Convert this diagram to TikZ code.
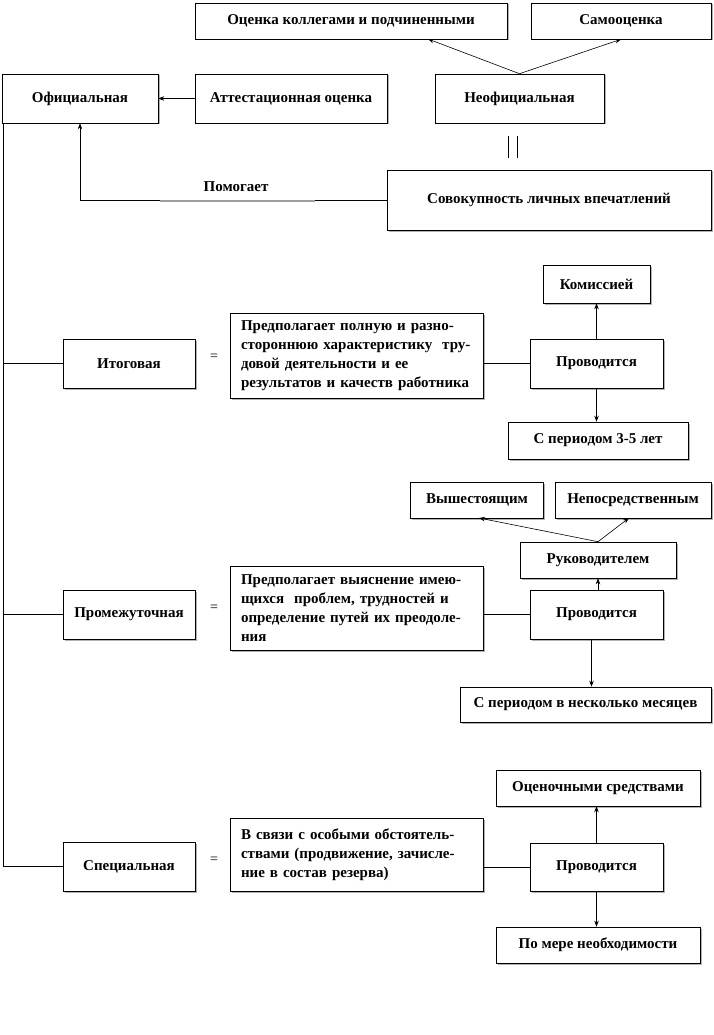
\documentclass[tikz,border=0pt]{standalone}
\usepackage{fontspec}
\setmainfont{Liberation Serif}
\usetikzlibrary{shadows,arrows.meta}
\begin{document}
\begin{tikzpicture}[x=1pt,y=-1pt,
  box/.style={draw=black, line width=0.6pt, fill=white, inner sep=2pt,
    font=\fontsize{15}{19}\selectfont\bfseries,
    drop shadow={shadow xshift=1.5pt, shadow yshift=-1.5pt, fill=gray!60, opacity=1}},
  sz/.style 2 args={minimum width=#1pt, minimum height=#2pt},
  desc/.style={box, align=left, text width=231pt, inner xsep=11pt},
  arr/.style={-{Stealth[length=6pt,width=4.5pt]}, line width=0.6pt},
  ln/.style={line width=0.6pt},
  lbl/.style={font=\fontsize{15}{19}\selectfont\bfseries, inner sep=0pt},
  eqs/.style={font=\fontsize{14}{14}\selectfont, inner sep=0pt}]
\useasboundingbox (0,0) rectangle (714,1035);

% top part
\node[box, sz={312}{36}] (A) at (351,21) {Оценка коллегами и подчиненными};
\node[box, sz={180}{36}] (B) at (621,21) {Самооценка};
\node[box, sz={156}{49}] (C) at (80,98.5) {Официальная};
\node[box, sz={192}{49}] (D) at (291,98.5) {Аттестационная оценка};
\node[box, sz={169}{49}] (E) at (519.5,98.5) {Неофициальная};
\node[box, sz={324}{60}] (F) at (549,200) {Совокупность личных впечатлений};
\node[lbl] (help) at (236,187) {Помогает};
\node[inner sep=0pt] (par) at (513,147) {\rule{0.6pt}{22pt}\hspace{8pt}\rule{0.6pt}{22pt}};

\coordinate (Ain) at (428,39);
\draw[arr] (E.north) -- (Ain);
\draw[arr] (E.north) -- (B.south);
\draw[arr] (D.west) -- (C.east);
\draw[arr] (F.west) -| (C.south);
\draw[gray!75, line width=1.4pt] (160,201) -- (315,201);

% row 1
\node[box, sz={107}{38}] (K) at (596.5,284) {Комиссией};
\node[box, sz={132}{49}] (I1) at (129,363.5) {Итоговая};
\node[eqs] (q1) at (214,357) {=};
\node[desc, minimum height=85pt] (D1) at (356.5,355.5) {Предполагает полную и разно-\\стороннюю характеристику\ \ тру-\\довой деятельности и ее\\результатов\ и качеств\ работника};
\node[box, sz={133}{49}] (P1) at (596.5,363.5) {Проводится};
\node[box, sz={180}{37}] (S1) at (598,440.5) {С периодом 3-5 лет};
\draw[ln] (P1.west) -- (P1.west -| D1.east);
\draw[arr] (P1.north) -- (P1.north |- K.south);
\draw[arr] (P1.south) -- (P1.south |- S1.north);

% row 2
\node[box, sz={133}{36}] (V) at (477,500) {Вышестоящим};
\node[box, sz={156}{36}] (N) at (633,500) {Непосредственным};
\node[box, sz={156}{36}] (R) at (598,560) {Руководителем};
\node[box, sz={132}{49}] (I2) at (129,614.5) {Промежуточная};
\node[eqs] (q2) at (214,608) {=};
\node[desc, minimum height=84pt] (D2) at (356.5,608) {Предполагает выяснение имею-\\щихся\ \ проблем, трудностей и\\определение путей их преодоле-\\ния};
\node[box, sz={133}{49}] (P2) at (596.5,614.5) {Проводится};
\node[box, sz={251}{35}] (S2) at (585.5,704.5) {С периодом в несколько месяцев};
\coordinate (Vin) at (479,518);
\coordinate (Nin) at (629,518);
\draw[arr] (R.north) -- (Vin);
\draw[arr] (R.north) -- (Nin);
\draw[arr] (P2.north -| R.south) -- (R.south);
\draw[ln] (P2.west) -- (P2.west -| D2.east);
\draw[arr] ([xshift=-5pt]P2.south) -- ([xshift=-5pt]P2.south |- S2.north);

% row 3
\node[box, sz={204}{36}] (O) at (598,788) {Оценочными средствами};
\node[box, sz={132}{49}] (I3) at (129,866.5) {Специальная};
\node[eqs] (q3) at (214,860) {=};
\node[desc, minimum height=73pt] (D3) at (356.5,854.5) {В связи с особыми обстоятель-\\ствами (продвижение, зачисле-\\ние в состав резерва)};
\node[box, sz={133}{48}] (P3) at (596.5,867) {Проводится};
\node[box, sz={204}{36}] (M) at (598,945) {По мере необходимости};
\draw[ln] (P3.west) -- (P3.west -| D3.east);
\draw[arr] (P3.north) -- (P3.north |- O.south);
\draw[arr] (P3.south) -- (P3.south |- M.north);

% left spine
\coordinate (sp) at ([xshift=2pt]C.south west);
\draw[ln] (sp) |- (I3.west);
\draw[ln] (sp |- I1.west) -- (I1.west);
\draw[ln] (sp |- I2.west) -- (I2.west);
\end{tikzpicture}
\end{document}
